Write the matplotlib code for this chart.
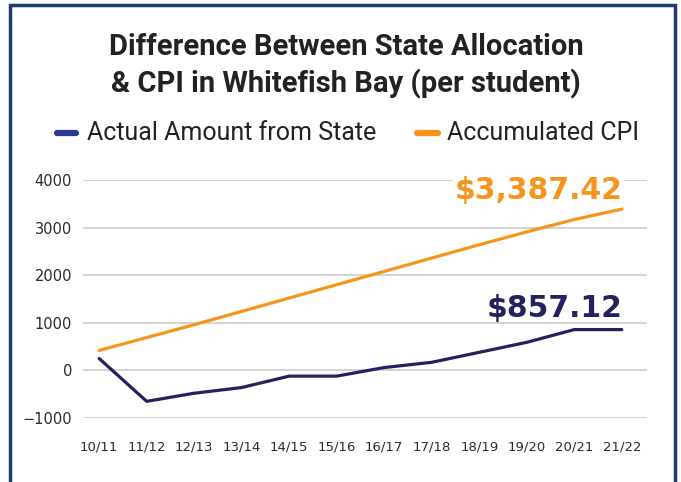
import matplotlib.pyplot as plt
from matplotlib.patches import Rectangle

years = ["10/11", "11/12", "12/13", "13/14", "14/15", "15/16",
         "16/17", "17/18", "18/19", "19/20", "20/21", "21/22"]
actual = [250, -650, -480, -360, -120, -120, 60, 170, 380, 590, 857.12, 857.12]
cpi = [420, 690, 960, 1240, 1520, 1800, 2080, 2360, 2640, 2910, 3170, 3387.42]

navy = "#24215f"
orange = "#f7941d"

fig = plt.figure(figsize=(6.81, 4.82), dpi=100)
fig.patches.append(Rectangle((10 / 681, -0.1), 665 / 681, 1.1 - 5 / 482,
                             transform=fig.transFigure, fill=False,
                             edgecolor="#1f3b70", linewidth=2.5))

ax = fig.add_axes([83 / 681, 64 / 482, 564 / 681, 238 / 482])
x = range(len(years))
ax.plot(x, actual, color=navy, linewidth=2.3, solid_capstyle="round")
ax.plot(x, cpi, color=orange, linewidth=2.3, solid_capstyle="round")

ax.set_xlim(-0.34, 11.53)
ax.set_ylim(-1000, 4000)
ax.set_yticks([-1000, 0, 1000, 2000, 3000, 4000])
ax.set_xticks(list(x))
ax.set_xticklabels(years)
ax.grid(axis="y", color="#d4d4d4", linewidth=1.5)
ax.set_axisbelow(True)
for s in ax.spines.values():
    s.set_visible(False)
ax.tick_params(length=0, labelcolor="#2a2a2a")
ax.tick_params(axis="y", pad=8, labelsize=10.5)
ax.tick_params(axis="x", pad=16, labelsize=9.5)

ax.text(11.02, cpi[-1] + 90, "$3,387.42", color=orange, fontsize=21.5,
        fontweight="bold", ha="right", va="bottom",
        bbox=dict(facecolor="white", edgecolor="none", pad=1))
ax.text(11.02, actual[-1] + 140, "$857.12", color=navy, fontsize=21.5,
        fontweight="bold", ha="right", va="bottom")

fig.text(0.508, 0.902, "Difference Between State Allocation",
         ha="center", va="center", fontsize=21, fontweight="bold",
         color="#222222", family="Roboto")
fig.text(0.508, 0.826, "& CPI in Whitefish Bay (per student)",
         ha="center", va="center", fontsize=21, fontweight="bold",
         color="#222222", family="Roboto")

# legend drawn by hand
fig.add_artist(plt.Line2D([57 / 681, 76 / 681], [0.724, 0.724],
                          color="#2b3990", linewidth=4.5, solid_capstyle="round"))
fig.text(87 / 681, 0.724, "Actual Amount from State", fontsize=18,
         va="center", color="#222222", family="Roboto")
fig.add_artist(plt.Line2D([417 / 681, 438 / 681], [0.724, 0.724],
                          color=orange, linewidth=4.5, solid_capstyle="round"))
fig.text(447 / 681, 0.724, "Accumulated CPI", fontsize=18,
         va="center", color="#222222", family="Roboto")

fig.savefig("out.png", dpi=100)
